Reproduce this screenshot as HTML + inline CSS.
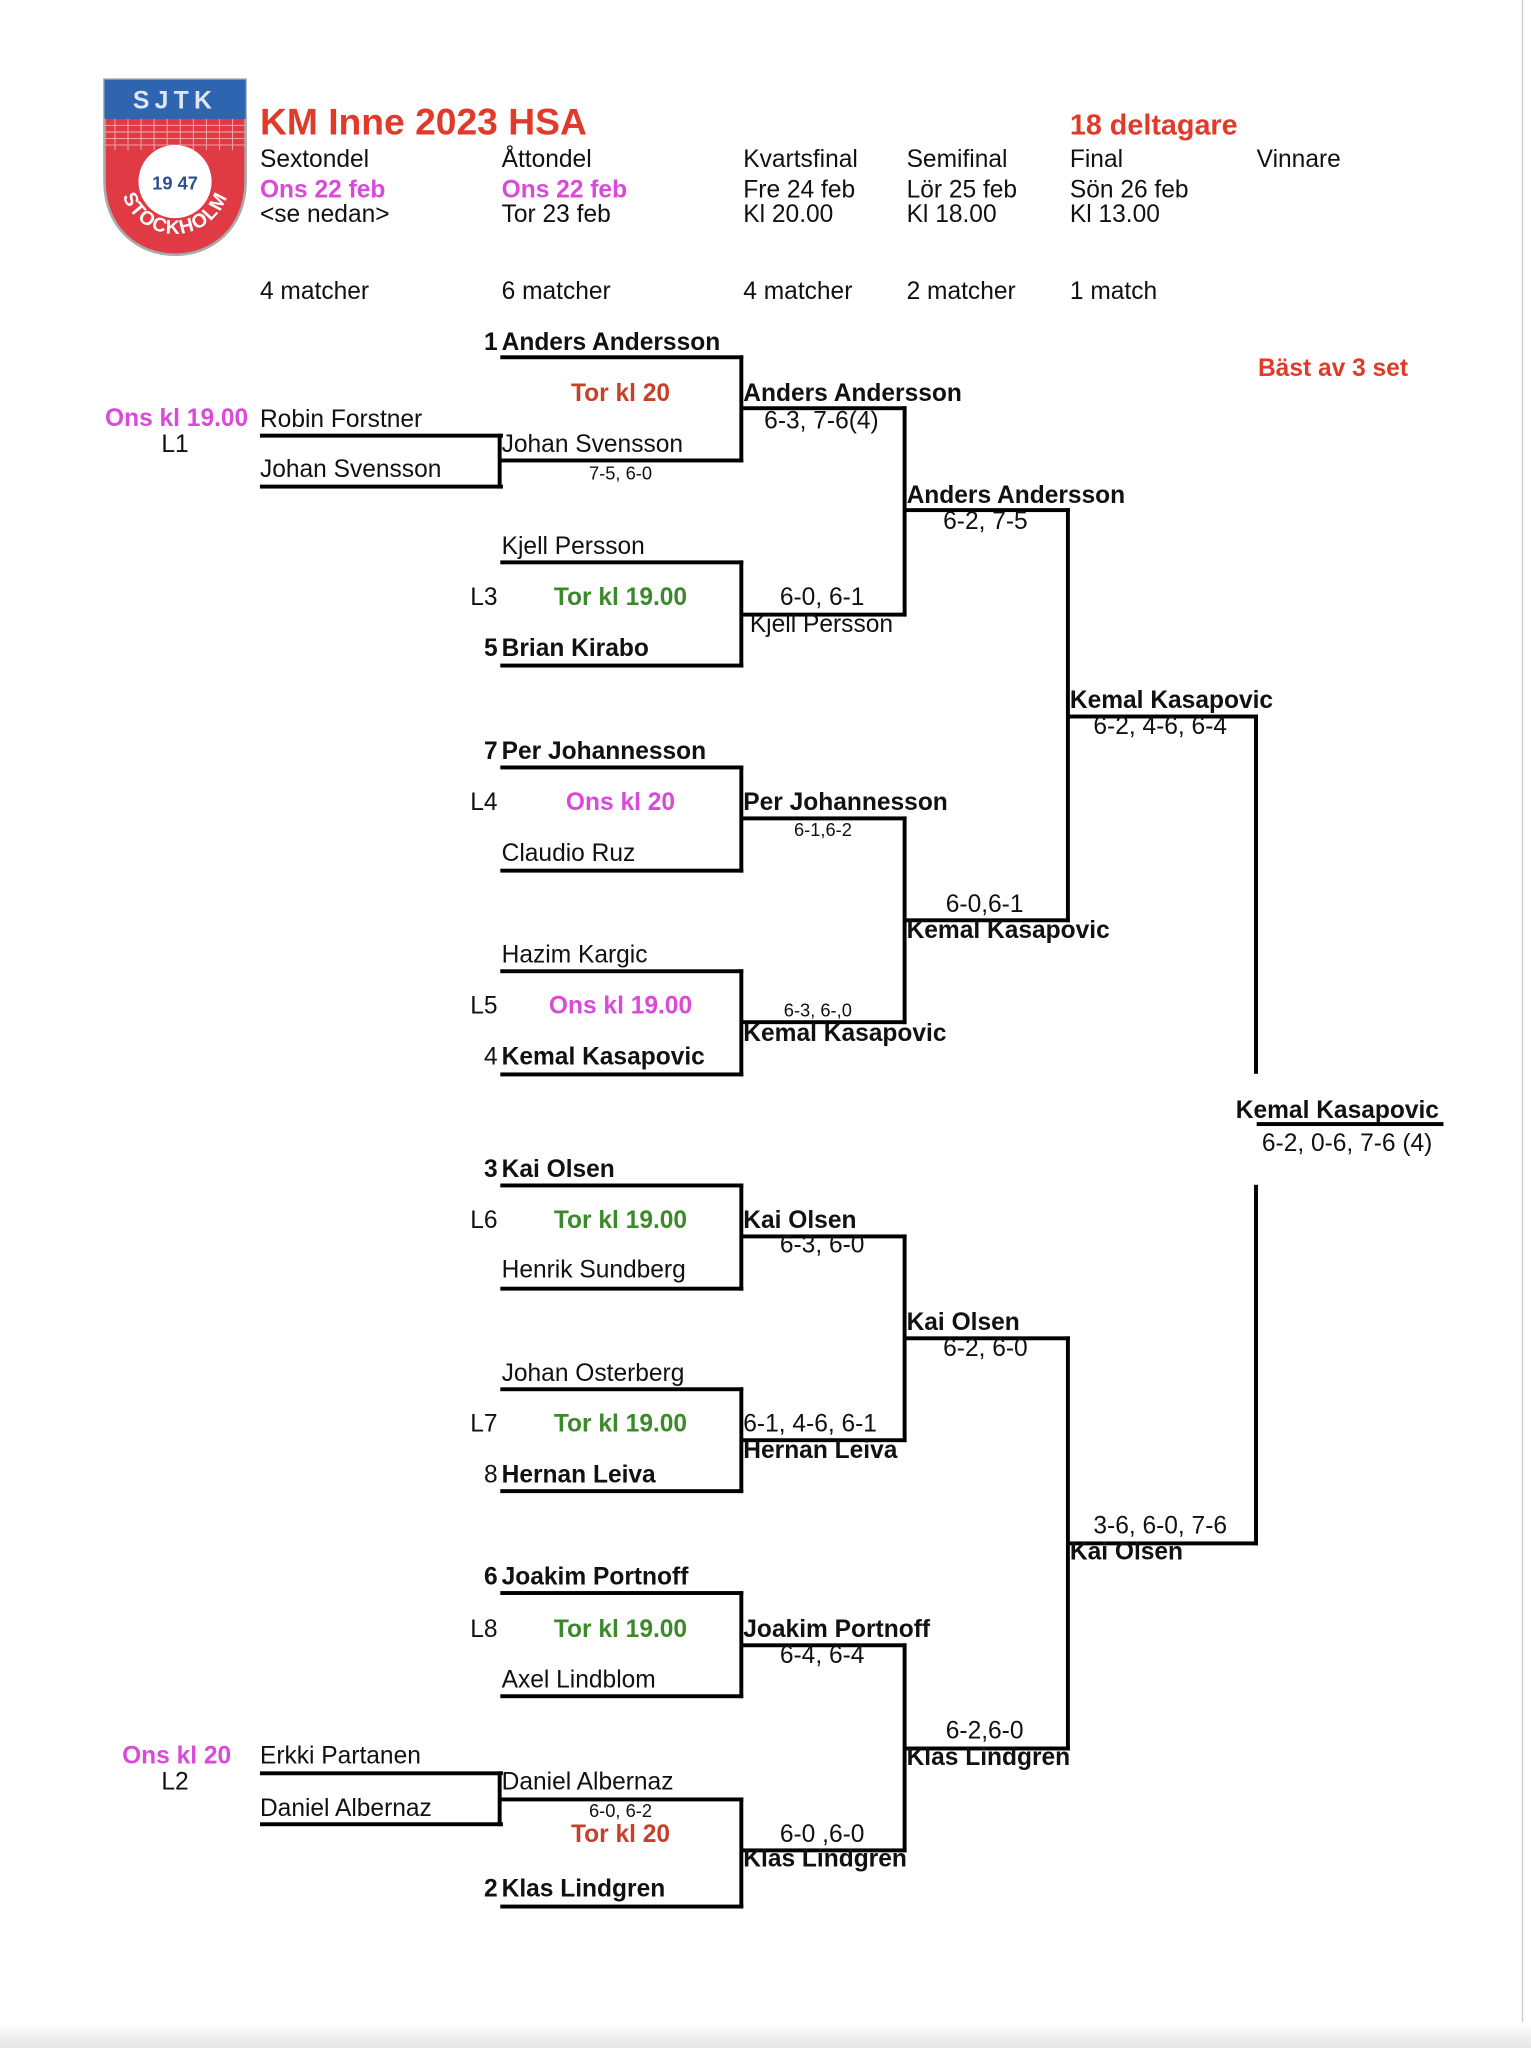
<!DOCTYPE html>
<html><head><meta charset="utf-8"><style>
html,body{margin:0;padding:0;background:#fff;}
body{width:1531px;height:2048px;overflow:hidden;position:relative;}
#s{position:absolute;left:0;top:0;width:1172px;height:1568px;transform:scale(1.3063);transform-origin:0 0;font-family:"Liberation Sans",Arial,sans-serif;color:#111;}
.t{position:absolute;white-space:nowrap;font-size:18.8px;line-height:20px;}
.b{font-weight:bold;}
.c{transform:translateX(-50%);}
.r{transform:translateX(-100%);}
.sm{font-size:14px;}
.mg{color:#d94ad9;font-weight:bold;}
.gr{color:#3b8a2a;font-weight:bold;}
.rd{color:#c8402a;font-weight:bold;}
.h{position:absolute;height:3.4px;background:#000;}
.v{position:absolute;width:3.4px;background:#000;}
</style></head><body><div id="s">
<div style="position:absolute;left:1165px;top:0;width:1px;height:1568px;background:#ccc"></div>
<div style="position:absolute;left:0;top:1548px;width:1172px;height:20px;background:linear-gradient(#fff,#e6e6e6)"></div>
<svg style="position:absolute;left:78px;top:59px" width="113" height="138" viewBox="0 0 113 138">
<defs><path id="arc" d="M14,78 A42,42 0 0 0 98,78"/></defs>
<path d="M2,2 H110 V80 C110,115 85,136 56,136 C27,136 2,115 2,80 Z" fill="#e03a45" stroke="#aaa" stroke-width="2"/>
<rect x="2" y="2" width="108" height="30" fill="#2f64b0"/>
<g stroke="#f3a0a6" stroke-width="0.8"><line x1="2" y1="37" x2="110" y2="37"/><line x1="2" y1="42" x2="110" y2="42"/><line x1="2" y1="47" x2="110" y2="47"/><line x1="2" y1="52" x2="110" y2="52"/>
<line x1="10" y1="32" x2="10" y2="56"/><line x1="20" y1="32" x2="20" y2="56"/><line x1="30" y1="32" x2="30" y2="56"/><line x1="40" y1="32" x2="40" y2="56"/><line x1="50" y1="32" x2="50" y2="56"/><line x1="60" y1="32" x2="60" y2="56"/><line x1="70" y1="32" x2="70" y2="56"/><line x1="80" y1="32" x2="80" y2="56"/><line x1="90" y1="32" x2="90" y2="56"/><line x1="100" y1="32" x2="100" y2="56"/></g>
<text x="56" y="24" font-family="Liberation Sans" font-weight="bold" font-size="19" fill="#dfe6f2" text-anchor="middle" letter-spacing="4">SJTK</text>
<circle cx="56" cy="80" r="28" fill="#fff"/>
<text x="56" y="86" font-family="Liberation Sans" font-weight="bold" font-size="14" fill="#2f4f90" text-anchor="middle">19 47</text>
<text font-family="Liberation Sans" font-weight="bold" font-size="15" fill="#fff" letter-spacing="1"><textPath href="#arc" startOffset="50%" text-anchor="middle">STOCKHOLM</textPath></text>
</svg>
<div class="t b" style="left:199px;top:78px;font-size:28.5px;line-height:32px;color:#e03a2a">KM Inne 2023 HSA</div>
<div class="t b" style="left:819px;top:84px;font-size:22px;line-height:24px;color:#e03a2a">18 deltagare</div>
<div class="t" style="left:199px;top:112px">Sextondel</div>
<div class="t" style="left:384px;top:112px">Åttondel</div>
<div class="t" style="left:569px;top:112px">Kvartsfinal</div>
<div class="t" style="left:694px;top:112px">Semifinal</div>
<div class="t" style="left:819px;top:112px">Final</div>
<div class="t" style="left:962px;top:112px">Vinnare</div>
<div class="t mg" style="left:199px;top:135px">Ons 22 feb</div>
<div class="t mg" style="left:384px;top:135px">Ons 22 feb</div>
<div class="t" style="left:569px;top:135px">Fre 24 feb</div>
<div class="t" style="left:694px;top:135px">Lör 25 feb</div>
<div class="t" style="left:819px;top:135px">Sön 26 feb</div>
<div class="t" style="left:199px;top:154px">&lt;se nedan&gt;</div>
<div class="t" style="left:384px;top:154px">Tor 23 feb</div>
<div class="t" style="left:569px;top:154px">Kl 20.00</div>
<div class="t" style="left:694px;top:154px">Kl 18.00</div>
<div class="t" style="left:819px;top:154px">Kl 13.00</div>
<div class="t" style="left:199px;top:213px">4 matcher</div>
<div class="t" style="left:384px;top:213px">6 matcher</div>
<div class="t" style="left:569px;top:213px">4 matcher</div>
<div class="t" style="left:694px;top:213px">2 matcher</div>
<div class="t" style="left:819px;top:213px">1 match</div>
<div class="t rd" style="left:963px;top:272px;color:#e03a2a">Bäst av 3 set</div>

<!-- lines -->
<div class="h" style="left:383px;width:186px;top:272px"></div>
<div class="h" style="left:199px;width:186px;top:332px"></div>
<div class="h" style="left:199px;width:186px;top:371px"></div>
<div class="v" style="left:381px;top:332px;height:42px"></div>
<div class="h" style="left:383px;width:186px;top:351px"></div>
<div class="v" style="left:566px;top:272px;height:82px"></div>
<div class="h" style="left:383px;width:186px;top:429px"></div>
<div class="h" style="left:383px;width:186px;top:508px"></div>
<div class="v" style="left:566px;top:429px;height:82px"></div>
<div class="h" style="left:568px;width:126px;top:311px"></div>
<div class="h" style="left:568px;width:126px;top:469px"></div>
<div class="v" style="left:691px;top:311px;height:161px"></div>
<div class="h" style="left:693px;width:126px;top:389px"></div>

<div class="h" style="left:383px;width:186px;top:586px"></div>
<div class="h" style="left:383px;width:186px;top:665px"></div>
<div class="v" style="left:566px;top:586px;height:82px"></div>
<div class="h" style="left:383px;width:186px;top:742px"></div>
<div class="h" style="left:383px;width:186px;top:821px"></div>
<div class="v" style="left:566px;top:742px;height:82px"></div>
<div class="h" style="left:568px;width:126px;top:625px"></div>
<div class="h" style="left:568px;width:126px;top:781px"></div>
<div class="v" style="left:691px;top:625px;height:159px"></div>
<div class="h" style="left:693px;width:126px;top:703px"></div>
<div class="v" style="left:816px;top:389px;height:317px"></div>
<div class="h" style="left:818px;width:145px;top:547px"></div>
<div class="v" style="left:960px;top:547px;height:275px"></div>
<div class="h" style="left:962px;width:143px;top:859px"></div>

<div class="h" style="left:383px;width:186px;top:906px"></div>
<div class="h" style="left:383px;width:186px;top:985px"></div>
<div class="v" style="left:566px;top:906px;height:82px"></div>
<div class="h" style="left:383px;width:186px;top:1062px"></div>
<div class="h" style="left:383px;width:186px;top:1140px"></div>
<div class="v" style="left:566px;top:1062px;height:81px"></div>
<div class="h" style="left:568px;width:126px;top:945px"></div>
<div class="h" style="left:568px;width:126px;top:1101px"></div>
<div class="v" style="left:691px;top:945px;height:159px"></div>
<div class="h" style="left:693px;width:126px;top:1023px"></div>

<div class="h" style="left:383px;width:186px;top:1218px"></div>
<div class="h" style="left:383px;width:186px;top:1297px"></div>
<div class="v" style="left:566px;top:1218px;height:82px"></div>
<div class="h" style="left:199px;width:186px;top:1356px"></div>
<div class="h" style="left:199px;width:186px;top:1395px"></div>
<div class="v" style="left:381px;top:1356px;height:42px"></div>
<div class="h" style="left:383px;width:186px;top:1376px"></div>
<div class="h" style="left:383px;width:186px;top:1458px"></div>
<div class="v" style="left:566px;top:1376px;height:85px"></div>
<div class="h" style="left:568px;width:126px;top:1258px"></div>
<div class="h" style="left:568px;width:126px;top:1415px"></div>
<div class="v" style="left:691px;top:1258px;height:160px"></div>
<div class="h" style="left:693px;width:126px;top:1337px"></div>
<div class="v" style="left:816px;top:1023px;height:317px"></div>
<div class="h" style="left:818px;width:145px;top:1180px"></div>
<div class="v" style="left:960px;top:907px;height:276px"></div>

<!-- texts top half -->
<div class="t b r" style="left:381px;top:252px">1</div>
<div class="t b" style="left:384px;top:252px">Anders Andersson</div>
<div class="t rd c" style="left:475px;top:291px">Tor kl 20</div>
<div class="t b" style="left:569px;top:291px">Anders Andersson</div>
<div class="t" style="left:585px;top:312px">6-3, 7-6(4)</div>
<div class="t mg r" style="left:190px;top:310px">Ons kl 19.00</div>
<div class="t c" style="left:134px;top:330px">L1</div>
<div class="t" style="left:199px;top:311px">Robin Forstner</div>
<div class="t" style="left:199px;top:349px">Johan Svensson</div>
<div class="t" style="left:384px;top:330px">Johan Svensson</div>
<div class="t sm c" style="left:475px;top:352px">7-5, 6-0</div>
<div class="t b" style="left:694px;top:369px">Anders Andersson</div>
<div class="t" style="left:722px;top:389px">6-2, 7-5</div>
<div class="t" style="left:384px;top:408px">Kjell Persson</div>
<div class="t" style="left:360px;top:447px">L3</div>
<div class="t gr c" style="left:475px;top:447px">Tor kl 19.00</div>
<div class="t" style="left:597px;top:447px">6-0, 6-1</div>
<div class="t" style="left:574px;top:468px">Kjell Persson</div>
<div class="t b r" style="left:381px;top:486px">5</div>
<div class="t b" style="left:384px;top:486px">Brian Kirabo</div>
<div class="t b" style="left:819px;top:526px">Kemal Kasapovic</div>
<div class="t" style="left:837px;top:546px">6-2, 4-6, 6-4</div>
<div class="t b r" style="left:381px;top:565px">7</div>
<div class="t b" style="left:384px;top:565px">Per Johannesson</div>
<div class="t" style="left:360px;top:604px">L4</div>
<div class="t mg c" style="left:475px;top:604px">Ons kl 20</div>
<div class="t b" style="left:569px;top:604px">Per Johannesson</div>
<div class="t sm c" style="left:630px;top:625px">6-1,6-2</div>
<div class="t" style="left:384px;top:643px">Claudio Ruz</div>
<div class="t" style="left:724px;top:682px">6-0,6-1</div>
<div class="t b" style="left:694px;top:702px">Kemal Kasapovic</div>
<div class="t" style="left:384px;top:721px">Hazim Kargic</div>
<div class="t" style="left:360px;top:760px">L5</div>
<div class="t mg c" style="left:475px;top:760px">Ons kl 19.00</div>
<div class="t sm" style="left:600px;top:763px">6-3, 6-,0</div>
<div class="t b" style="left:569px;top:781px">Kemal Kasapovic</div>
<div class="t r" style="left:381px;top:799px">4</div>
<div class="t b" style="left:384px;top:799px">Kemal Kasapovic</div>
<div class="t b" style="left:946px;top:840px">Kemal Kasapovic</div>
<div class="t" style="left:966px;top:865px">6-2, 0-6, 7-6 (4)</div>

<!-- bottom half -->
<div class="t b r" style="left:381px;top:885px">3</div>
<div class="t b" style="left:384px;top:885px">Kai Olsen</div>
<div class="t" style="left:360px;top:924px">L6</div>
<div class="t gr c" style="left:475px;top:924px">Tor kl 19.00</div>
<div class="t b" style="left:569px;top:924px">Kai Olsen</div>
<div class="t" style="left:597px;top:943px">6-3, 6-0</div>
<div class="t" style="left:384px;top:962px">Henrik Sundberg</div>
<div class="t b" style="left:694px;top:1002px">Kai Olsen</div>
<div class="t" style="left:722px;top:1022px">6-2, 6-0</div>
<div class="t" style="left:384px;top:1041px">Johan Osterberg</div>
<div class="t" style="left:360px;top:1080px">L7</div>
<div class="t gr c" style="left:475px;top:1080px">Tor kl 19.00</div>
<div class="t" style="left:569px;top:1080px">6-1, 4-6, 6-1</div>
<div class="t b" style="left:569px;top:1100px">Hernan Leiva</div>
<div class="t r" style="left:381px;top:1119px">8</div>
<div class="t b" style="left:384px;top:1119px">Hernan Leiva</div>
<div class="t" style="left:837px;top:1158px">3-6, 6-0, 7-6</div>
<div class="t b" style="left:819px;top:1178px">Kai Olsen</div>
<div class="t b r" style="left:381px;top:1197px">6</div>
<div class="t b" style="left:384px;top:1197px">Joakim Portnoff</div>
<div class="t" style="left:360px;top:1237px">L8</div>
<div class="t gr c" style="left:475px;top:1237px">Tor kl 19.00</div>
<div class="t b" style="left:569px;top:1237px">Joakim Portnoff</div>
<div class="t" style="left:597px;top:1257px">6-4, 6-4</div>
<div class="t" style="left:384px;top:1276px">Axel Lindblom</div>
<div class="t" style="left:724px;top:1315px">6-2,6-0</div>
<div class="t b" style="left:694px;top:1335px">Klas Lindgren</div>
<div class="t mg r" style="left:177px;top:1334px">Ons kl 20</div>
<div class="t c" style="left:134px;top:1354px">L2</div>
<div class="t" style="left:199px;top:1334px">Erkki Partanen</div>
<div class="t" style="left:199px;top:1374px">Daniel Albernaz</div>
<div class="t" style="left:384px;top:1354px">Daniel Albernaz</div>
<div class="t sm c" style="left:475px;top:1376px">6-0, 6-2</div>
<div class="t rd c" style="left:475px;top:1394px">Tor kl 20</div>
<div class="t" style="left:597px;top:1394px">6-0 ,6-0</div>
<div class="t b" style="left:569px;top:1413px">Klas Lindgren</div>
<div class="t b r" style="left:381px;top:1436px">2</div>
<div class="t b" style="left:384px;top:1436px">Klas Lindgren</div>
</div></body></html>
